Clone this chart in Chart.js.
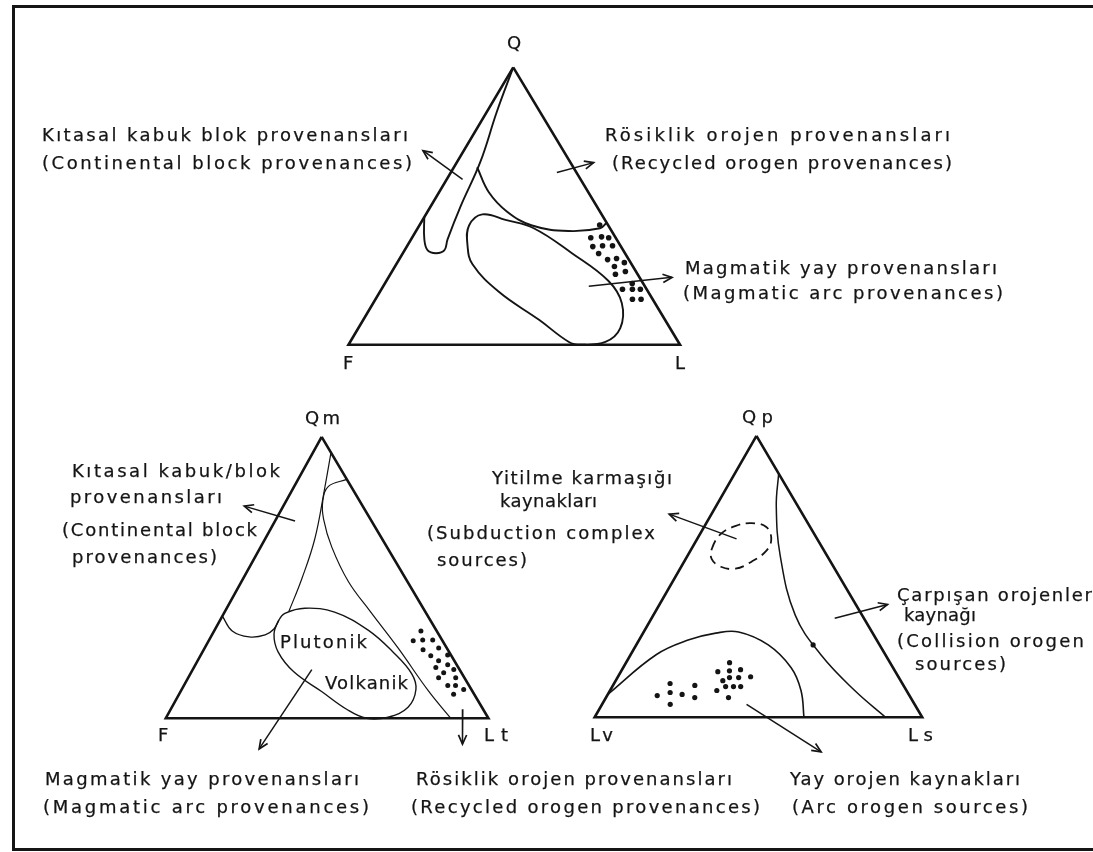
<!DOCTYPE html>
<html>
<head>
<meta charset="utf-8">
<script src="https://cdn.jsdelivr.net/npm/chart.js@4/dist/chart.umd.min.js"></script>
<style>
body { margin: 0; background: #fff; }
#wrap { position: relative; width: 1093px; height: 852px; overflow: hidden; }
#frame { position: absolute; left: 12px; top: 5px; width: 1100px; height: 840px;
         border: 3px solid #151515; border-right: none; }
canvas { position: absolute; left: 0; top: 0; }
.lbl { position: absolute; font-family: "DejaVu Sans", "Liberation Sans", sans-serif; font-size: 18px;
       line-height: 20px; color: #141414; white-space: nowrap; -webkit-text-stroke: 0.25px #141414; }
</style>
</head>
<body>
<div id="wrap">
  <div id="frame"></div>
  <canvas id="tern" width="1093" height="852"></canvas>
</div>
<script>
// ternary compositions, percent [top, left, right]

// Q-F-L diagram
const qflContinental = [[46,54,0],[38,58,4],[34,59,7],[33,57,10],[34,54,12],[38,51,11],[50,41,9],[66,27,7],[84,13,3],[100,0,0]];
const qflRecycled = [[64,29,7],[55,30,15],[48,28,24],[43,23,34],[41,13,46],[42,3,55],[44,0,56]];
const qflMagmatic = [[43,42,15],[47,36,17],[45,30,25],[42,23,35],[33,16,51],[23,10,67],[15,10,75],[6,15,79],
                     [1,22,77],[0,30,70],[1,33,66],[9,38,53],[19,45,36],[29,48,23],[36,46,18]];
const qflSamples = [[43.2,2.5,54.3],[38.6,7.5,53.9],[38.9,4.1,57.0],[38.6,2.1,59.3],[35.4,8.5,56.1],[35.7,5.4,58.9],
                    [35.7,2.4,61.9],[32.9,8.0,59.1],[30.7,6.4,62.9],[31.1,3.5,65.4],[29.6,1.9,68.5],[28.2,5.6,66.2],
                    [25.4,6.7,67.9],[26.4,3.2,70.4],[22.1,3.3,74.6],[20.0,7.3,72.7],[20.0,4.3,75.7],[20.0,1.9,78.1],
                    [16.4,6.1,77.5],[16.4,3.5,80.1]];

// Qm-F-Lt diagram
const qmContinental = [[94.4,0,5.6],[81.3,8.8,9.9],[63.7,20.9,15.4],[49.6,32.2,18.2],[38.0,42.2,19.8]];
const qmRecycled = [[84.9,0,15.1],[82.4,7.0,10.6],[77.1,11.5,11.4],[70.8,14.5,14.7],[60.9,17.1,22.0],[48.6,18.3,33.1],
                    [38.0,17.0,45.0],[25.0,15.1,59.9],[9.9,13.6,76.5],[0,11.7,88.3]];
const qmBasement = [[36.3,63.7,0],[31.0,63.4,5.6],[28.9,59.2,11.9],[29.6,53.9,16.5],[31.7,50.1,18.2],[34.9,46.9,18.2]];
const qmArc = [[37.3,43.8,18.9],[39.1,36.7,24.2],[37.7,28.2,34.1],[31.3,21.1,47.6],[23.2,17.3,59.5],[15.8,15.6,68.6],
               [10.2,17.2,72.6],[3.9,22.9,73.2],[0.4,30.9,68.7],[0,37.8,62.2],[3.2,42.3,54.5],[9.5,46.8,43.7],
               [16.5,51.8,31.7],[23.6,53.0,23.4],[29.9,51.0,19.1],[34.9,46.9,18.2]];
const qmSamples = [[31.0,4.9,64.1],[27.5,9.1,63.4],[27.8,6.0,66.2],[27.8,2.9,69.3],[24.3,7.7,68.0],[25.0,2.5,72.5],
                   [22.2,6.4,71.4],[22.5,1.0,76.5],[20.4,4.9,74.7],[19.0,2.8,78.2],[18.0,7.0,75.0],[17.3,1.8,80.9],
                   [16.2,5.5,78.3],[14.4,8.0,77.6],[14.4,2.7,82.9],[11.6,6.6,81.8],[11.6,4.2,84.2],[10.2,2.4,87.4],
                   [8.5,6.4,85.1]];

// Qp-Lv-Ls diagram
const qpCollision = [[86.6,0,13.4],[75.0,6.6,18.4],[57.4,14.3,28.3],[36.3,20.4,43.3],[22.2,19.7,58.1],[9.5,15.8,74.7],[0,11.2,88.8]];
const qpArc = [[8.1,91.9,0],[22.2,70.0,7.8],[27.5,57.3,15.2],[29.9,47.9,22.2],[30.3,40.7,29.0],[25.7,34.0,40.3],
               [17.6,31.1,51.3],[9.5,32.2,58.3],[0,36.1,63.9]];
const qpSubduction = [[59.9,33.9,6.2],[65.1,28.6,6.3],[68.0,22.5,9.5],[69.0,17.2,13.8],[67.6,13.4,19.0],[63.4,14.0,22.6],
                      [59.2,17.6,23.2],[55.3,24.1,20.6],[52.8,30.3,16.9],[53.5,34.4,12.1],[56.3,35.8,7.9]];
const qpSamples = [[7.7,77.0,15.3],[12.0,70.9,17.1],[8.8,72.5,18.7],[8.1,69.2,22.7],[4.6,74.6,20.8],[11.3,63.7,25.0],
                   [7.0,65.9,27.1],[19.4,49.0,31.6],[16.2,54.2,29.6],[16.5,50.5,33.0],[16.9,46.9,36.2],[13.0,54.3,32.7],
                   [14.1,51.7,34.2],[14.1,48.9,37.0],[14.4,45.1,40.5],[9.5,57.9,32.6],[10.9,54.5,34.6],[10.9,52.1,37.0],
                   [10.9,49.9,39.2],[7.0,55.6,37.4],[25.7,20.3,54.0]];

// pointer arrows: [tail, head]
const qflPointers = [[[59.6,35.6,4.8],[70,42.3,-12.3]], [[62.1,5.9,32.0],[69.6,-7.4,43.8]], [[21.1,16.9,62.0],[24.3,-9.8,85.5]]];
const qmPointers = [[[70.1,23.7,6.2],[75.4,36.7,-12.1]], [[17.3,45.8,36.9],[-10.9,76.7,34.2]], [[3.2,6.3,90.5],[-9.2,12.8,96.4]]];
const qpPointers = [[[63.4,24.6,12.0],[72.2,40.7,-12.9]], [[35.2,8.9,55.9],[40.1,-9.7,69.6]], [[4.6,51.3,44.1],[-12.3,37.1,75.2]]];

// where each triangle sits on the page (apex, left, right)
const qflCorners = { a: [513, 64], b: [347, 344], c: [681, 344] };
const qmCorners = { a: [320, 437], b: [163, 721], c: [488, 721] };
const qpCorners = { a: [758, 436], b: [595, 720], c: [925, 720] };

// text: [text, left, middle y, width]
const notes = [
  ['Q', 507, 43, 13], ['F', 343, 363, 11], ['L', 675, 363, 11],
  ['Kıtasal kabuk blok provenansları', 42, 135, 366],
  ['(Continental block provenances)', 42, 163, 370],
  ['Rösiklik orojen provenansları', 605, 135, 345],
  ['(Recycled orogen provenances)', 612, 163, 340],
  ['Magmatik yay provenansları', 685, 268, 312],
  ['(Magmatic arc provenances)', 683, 293, 320],
  ['Qm', 305, 418, 35], ['F', 158, 735, 11], ['Lt', 484, 735, 24],
  ['Kıtasal kabuk/blok', 72, 471, 208], ['provenansları', 70, 497, 152],
  ['(Continental block', 62, 530, 195], ['provenances)', 72, 557, 145],
  ['Plutonik', 280, 642, 87], ['Volkanik', 325, 683, 83],
  ['Magmatik yay provenansları', 45, 779, 314], ['(Magmatic arc provenances)', 43, 807, 326],
  ['Qp', 742, 417, 31], ['Lv', 590, 735, 23], ['Ls', 908, 735, 25],
  ['Yitilme karmaşığı', 492, 478, 180], ['kaynakları', 500, 501, 97],
  ['(Subduction complex', 427, 533, 228], ['sources)', 437, 560, 90],
  ['Çarpışan orojenler', 897, 595, 195], ['kaynağı', 904, 615, 72],
  ['(Collision orogen', 897, 641, 187], ['sources)', 915, 664, 91],
  ['Rösiklik orojen provenansları', 416, 779, 316], ['(Recycled orogen provenances)', 411, 807, 349],
  ['Yay orojen kaynakları', 790, 779, 230], ['(Arc orogen sources)', 792, 807, 236]
];

function tern(c, p) {
  const s = p[0] + p[1] + p[2];
  return {
    x: (p[0] * c.a[0] + p[1] * c.b[0] + p[2] * c.c[0]) / s,
    y: (p[0] * c.a[1] + p[1] * c.b[1] + p[2] * c.c[1]) / s
  };
}

const INK = '#141414';

function outline(c) {
  return { data: [[100,0,0],[0,100,0],[0,0,100],[100,0,0]].map(p => tern(c, p)),
           showLine: true, borderColor: INK, borderWidth: 2.6, pointRadius: 0, tension: 0,
           borderJoinStyle: 'miter' };
}

function curve(c, pts, w) {
  return { data: pts.map(p => tern(c, p)), showLine: true, borderColor: INK, borderWidth: w,
           pointRadius: 0, tension: 0.4 };
}

function loop(c, pts, w, dash) {
  const n = pts.length;
  const seq = [pts[n - 1], ...pts, pts[0], pts[1]];
  return { data: seq.map(p => tern(c, p)), showLine: true, borderWidth: w, pointRadius: 0, tension: 0.4,
           borderColor: INK, borderDash: dash || [],
           segment: { borderColor: ctx => (ctx.p0DataIndex === 0 || ctx.p0DataIndex === n + 1) ? 'rgba(0,0,0,0)' : INK } };
}

function dots(c, pts, r) {
  return { data: pts.map(p => tern(c, p)), showLine: false, pointRadius: r,
           pointBackgroundColor: INK, pointBorderWidth: 0 };
}

function pointers(c, list) {
  return list.map(pr => ({ data: pr.map(p => tern(c, p)), showLine: true, borderColor: INK,
                           borderWidth: 1.5, pointRadius: 0, arrow: true }));
}

const datasets = [
  outline(qflCorners), outline(qmCorners), outline(qpCorners),
  curve(qflCorners, qflContinental, 1.9),
  curve(qflCorners, qflRecycled, 1.9),
  loop(qflCorners, qflMagmatic, 1.9),
  dots(qflCorners, qflSamples, 2.8),
  curve(qmCorners, qmContinental, 1.2),
  curve(qmCorners, qmRecycled, 1.2),
  curve(qmCorners, qmBasement, 1.4),
  loop(qmCorners, qmArc, 1.4),
  dots(qmCorners, qmSamples, 2.5),
  curve(qpCorners, qpCollision, 1.5),
  curve(qpCorners, qpArc, 1.6),
  loop(qpCorners, qpSubduction, 1.8, [9, 6]),
  dots(qpCorners, qpSamples, 2.6),
  ...pointers(qflCorners, qflPointers),
  ...pointers(qmCorners, qmPointers),
  ...pointers(qpCorners, qpPointers)
];

// open V heads at the end of each pointer
const arrowHeads = {
  id: 'arrowHeads',
  afterDatasetsDraw(chart) {
    const ctx = chart.ctx;
    chart.data.datasets.forEach((ds, i) => {
      if (!ds.arrow) return;
      const pts = chart.getDatasetMeta(i).data;
      const a = pts[0], b = pts[1];
      const ang = Math.atan2(b.y - a.y, b.x - a.x);
      ctx.save();
      ctx.strokeStyle = INK;
      ctx.lineWidth = 1.7;
      ctx.beginPath();
      ctx.moveTo(b.x - 10 * Math.cos(ang - 0.42), b.y - 10 * Math.sin(ang - 0.42));
      ctx.lineTo(b.x, b.y);
      ctx.lineTo(b.x - 10 * Math.cos(ang + 0.42), b.y - 10 * Math.sin(ang + 0.42));
      ctx.stroke();
      ctx.restore();
    });
  }
};

new Chart(document.getElementById('tern'), {
  type: 'scatter',
  data: { datasets: datasets },
  options: {
    responsive: false,
    animation: false,
    devicePixelRatio: 1,
    layout: { padding: 0 },
    plugins: { legend: { display: false }, tooltip: { enabled: false } },
    scales: {
      x: { type: 'linear', min: 0, max: 1093, display: false },
      y: { type: 'linear', min: 0, max: 852, reverse: true, display: false }
    }
  },
  plugins: [arrowHeads]
});

// labels, stretched to the widths
const wrap = document.getElementById('wrap');
const els = notes.map(n => {
  const d = document.createElement('div');
  d.className = 'lbl';
  d.textContent = n[0];
  d.style.left = n[1] + 'px';
  d.style.top = (n[2] - 10) + 'px';
  wrap.appendChild(d);
  return d;
});
function fit() {
  els.forEach((d, i) => {
    d.style.letterSpacing = '0px';
    const w0 = d.getBoundingClientRect().width;
    const k = Math.max(1, notes[i][0].length - 1);
    d.style.letterSpacing = ((notes[i][3] - w0) / k) + 'px';
  });
}
fit();
if (document.fonts) document.fonts.ready.then(fit);
</script>
</body>
</html>
